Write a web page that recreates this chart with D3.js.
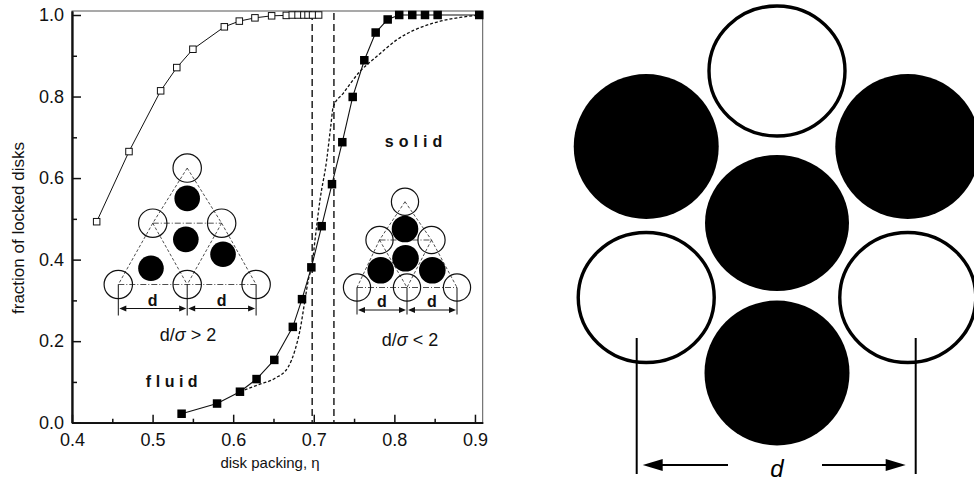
<!DOCTYPE html>
<html>
<head>
<meta charset="utf-8">
<script src="https://cdn.jsdelivr.net/npm/d3@7"></script>
<style>
  html, body { margin: 0; padding: 0; background: #fff; }
  svg { display: block; font-family: "Liberation Sans", Arial, Helvetica, sans-serif; }
</style>
</head>
<body>
<svg id="fig" width="974" height="484"></svg>
<script>
// ---- data: fraction of locked disks vs. disk packing ----
const openEta   = [0.4306, 0.4707, 0.510, 0.530, 0.550, 0.589, 0.6076, 0.627, 0.6477,
                   0.6659, 0.6733, 0.6805, 0.6877, 0.6929, 0.6985, 0.706];
const openFrac  = [0.493, 0.665, 0.814, 0.871, 0.916, 0.971, 0.985, 0.993, 0.998,
                   0.999, 1.0, 1.0, 1.0, 1.0, 1.0, 1.0];

const filledEta  = [0.536, 0.580, 0.6084, 0.629, 0.651, 0.674, 0.6854, 0.697, 0.7098, 0.7226,
                    0.7354, 0.7483, 0.7627, 0.7768, 0.7917, 0.806, 0.8222, 0.838, 0.8537, 0.9053];
const filledFrac = [0.022, 0.047, 0.076, 0.107, 0.154, 0.235, 0.303, 0.381, 0.482, 0.585,
                    0.688, 0.799, 0.889, 0.957, 0.989, 1.0, 1.0, 1.0, 1.0, 1.0];

const curveEta  = [0.6084, 0.631, 0.6519, 0.6684, 0.6767, 0.6829, 0.6891, 0.6932, 0.6982, 0.7015,
                   0.7077, 0.716, 0.721, 0.7242, 0.7366, 0.757, 0.778, 0.803, 0.848, 0.8814, 0.906];
const curveFrac = [0.076, 0.093, 0.109, 0.137, 0.178, 0.227, 0.301, 0.35, 0.391, 0.448,
                   0.546, 0.644, 0.726, 0.775, 0.808, 0.861, 0.898, 0.939, 0.98, 0.994, 1.0];

// coexistence boundaries (vertical dashed lines)
const transitionEta = [0.698, 0.725];

const xMajorTicks = [0.4, 0.5, 0.6, 0.7, 0.8, 0.9];
const xMinorTicks = [0.45, 0.55, 0.65, 0.75, 0.85];
const yMajorTicks = [0.0, 0.2, 0.4, 0.6, 0.8, 1.0];
const yMinorTicks = [0.1, 0.3, 0.5, 0.7, 0.9];

// inset lattices, in units of the lattice spacing d
const insetOpenLoose   = [[0,0],[1,0],[2,0],[0.5,0.89],[1.5,0.89],[1,1.69]];
const insetFilledLoose = [[1.0,1.25],[0.98,0.655],[1.52,0.44],[0.474,0.235]];
const insetOpenDense   = [[0,0],[1,0],[2,0],[0.45,0.95],[1.49,0.95],[0.96,1.716]];
const insetFilledDense = [[0.96,1.17],[0.97,0.585],[0.474,0.345],[1.506,0.345]];

// large schematic: neighbours of a central locked disk (angle in degrees, locked?)
const neighbours = [[90,false],[150,true],[30,true],[210,false],[330,false],[270,true]];

const svg = d3.select("#fig");
const FONT = "'Liberation Sans', Arial, Helvetica, sans-serif";

// ---- scales ----
const x = d3.scaleLinear().domain([0.4, 0.9096]).range([72, 482.7]);
const y = d3.scaleLinear().domain([0, 1.0098]).range([422.7, 11]);

// plot frame (thin top/right edges)
svg.append("rect")
  .attr("x", x(0.4)).attr("y", y(1.0098))
  .attr("width", x(0.9096) - x(0.4)).attr("height", y(0) - y(1.0098))
  .attr("fill", "none").attr("stroke", "#555").attr("stroke-width", 1);

// ---- axes ----
const gx = svg.append("g").attr("transform", `translate(0,${y(0)})`);
gx.call(d3.axisBottom(x).tickValues(xMajorTicks).tickFormat(d3.format(".1f"))
  .tickSizeInner(-8).tickSizeOuter(0).tickPadding(11));
const gxm = svg.append("g").attr("transform", `translate(0,${y(0)})`);
gxm.call(d3.axisBottom(x).tickValues(xMinorTicks).tickFormat("").tickSizeInner(-4).tickSizeOuter(0));

const gy = svg.append("g").attr("transform", `translate(${x(0.4)},0)`);
gy.call(d3.axisLeft(y).tickValues(yMajorTicks).tickFormat(d3.format(".1f"))
  .tickSizeInner(-9).tickSizeOuter(0).tickPadding(8));
const gym = svg.append("g").attr("transform", `translate(${x(0.4)},0)`);
gym.call(d3.axisLeft(y).tickValues(yMinorTicks).tickFormat("").tickSizeInner(-5).tickSizeOuter(0));

[gx, gxm, gy, gym].forEach(g => {
  g.select(".domain").attr("stroke", "#111").attr("stroke-width", 1.8);
  g.selectAll(".tick line").attr("stroke", "#111").attr("stroke-width", 1.5);
  g.selectAll(".tick text").attr("fill", "#111").style("font-size", "18px").style("font-family", FONT);
});

// axis titles
svg.append("text")
  .attr("x", 270).attr("y", 468).attr("text-anchor", "middle")
  .style("font-size", "15px").attr("fill", "#111")
  .text("disk packing, η");
svg.append("text")
  .attr("transform", "translate(24,228) rotate(-90)").attr("text-anchor", "middle")
  .style("font-size", "17px").attr("fill", "#111")
  .text("fraction of locked disks");

// ---- vertical dashed transition lines ----
svg.selectAll("line.trans").data(transitionEta).join("line")
  .attr("class", "trans")
  .attr("x1", d => x(d)).attr("x2", d => x(d))
  .attr("y1", y(1.0098) + 2).attr("y2", y(0))
  .attr("stroke", "#111").attr("stroke-width", 1.4).attr("stroke-dasharray", "7,4");

// ---- series ----
const openPts   = openEta.map((e, i) => [e, openFrac[i]]);
const filledPts = filledEta.map((e, i) => [e, filledFrac[i]]);
const curvePts  = curveEta.map((e, i) => [e, curveFrac[i]]);

const line = d3.line().x(d => x(d[0])).y(d => y(d[1]));

svg.append("path").attr("d", d3.line().x(d => x(d[0])).y(d => y(d[1])).curve(d3.curveMonotoneX)(curvePts))
  .attr("fill", "none").attr("stroke", "#111").attr("stroke-width", 1.3).attr("stroke-dasharray", "3,2");

svg.append("path").attr("d", line(openPts))
  .attr("fill", "none").attr("stroke", "#111").attr("stroke-width", 1);
svg.append("path").attr("d", line(filledPts))
  .attr("fill", "none").attr("stroke", "#111").attr("stroke-width", 1.1);

const so = 6.5;
svg.selectAll("rect.open").data(openPts).join("rect")
  .attr("class", "open")
  .attr("x", d => x(d[0]) - so / 2).attr("y", d => y(d[1]) - so / 2)
  .attr("width", so).attr("height", so)
  .attr("fill", "#fff").attr("stroke", "#111").attr("stroke-width", 1);

const sf = 8.5;
svg.selectAll("rect.filled").data(filledPts).join("rect")
  .attr("class", "filled")
  .attr("x", d => x(d[0]) - sf / 2).attr("y", d => y(d[1]) - sf / 2)
  .attr("width", sf).attr("height", sf)
  .attr("fill", "#000");

// ---- phase labels ----
svg.append("text").attr("x", 174).attr("y", 386.5).attr("text-anchor", "middle")
  .style("font-size", "16px").style("font-weight", "bold").style("letter-spacing", "4.5px")
  .attr("fill", "#111").text("fluid");
svg.append("text").attr("x", 416).attr("y", 147).attr("text-anchor", "middle")
  .style("font-size", "16px").style("font-weight", "bold").style("letter-spacing", "5px")
  .attr("fill", "#111").text("solid");

// ---- lattice insets ----
function drawInset(cfg) {
  const g = svg.append("g");
  const ux = d3.scaleLinear().domain([0, 1]).range([cfg.ox, cfg.ox + cfg.unit]);
  const uy = d3.scaleLinear().domain([0, 1]).range([cfg.oy, cfg.oy - cfg.unit]);
  const o = cfg.open;
  const P = i => [ux(o[i][0]), uy(o[i][1])];

  // triangle construction lines
  const dashed = [[5,3],[3,0],[5,4],[4,2],[3,1],[4,1]];
  dashed.forEach(([a, b]) => {
    g.append("line").attr("x1", P(a)[0]).attr("y1", P(a)[1]).attr("x2", P(b)[0]).attr("y2", P(b)[1])
      .attr("stroke", "#222").attr("stroke-width", 0.8).attr("stroke-dasharray", "3,2");
  });
  [[3,4],[0,2]].forEach(([a, b]) => {
    g.append("line").attr("x1", P(a)[0]).attr("y1", P(a)[1]).attr("x2", P(b)[0]).attr("y2", P(b)[1])
      .attr("stroke", "#222").attr("stroke-width", 0.8).attr("stroke-dasharray", "6,2,1,2");
  });

  g.selectAll("circle.o").data(o).join("circle")
    .attr("cx", d => ux(d[0])).attr("cy", d => uy(d[1])).attr("r", cfg.rOpen)
    .attr("fill", "none").attr("stroke", "#111").attr("stroke-width", 1.2);
  g.selectAll("circle.f").data(cfg.filled).join("circle")
    .attr("cx", d => ux(d[0])).attr("cy", d => uy(d[1])).attr("r", cfg.rFilled)
    .attr("fill", "#000");

  // dimension lines
  [0, 1, 2].forEach(k => {
    g.append("line").attr("x1", ux(k)).attr("x2", ux(k))
      .attr("y1", cfg.oy).attr("y2", cfg.oy + cfg.dimDrop)
      .attr("stroke", "#111").attr("stroke-width", 1);
  });
  const ay = cfg.oy + cfg.dimY;
  [0, 1].forEach(k => {
    const x0 = ux(k) + 1, x1 = ux(k + 1) - 1;
    g.append("line").attr("x1", x0 + 5).attr("x2", x1 - 5).attr("y1", ay).attr("y2", ay)
      .attr("stroke", "#111").attr("stroke-width", 1.2);
    g.append("path").attr("d", `M${x0},${ay} l7,-3 v6 z`).attr("fill", "#111");
    g.append("path").attr("d", `M${x1},${ay} l-7,-3 v6 z`).attr("fill", "#111");
    g.append("text").attr("x", (ux(k) + ux(k + 1)) / 2).attr("y", ay - 3).attr("text-anchor", "middle")
      .style("font-size", "16px").style("font-weight", "bold").attr("fill", "#111").text("d");
  });

  const t = g.append("text").attr("x", cfg.labelX).attr("y", cfg.labelY).attr("text-anchor", "middle")
    .style("font-size", "18px").attr("fill", "#111");
  t.append("tspan").text("d/");
  t.append("tspan").style("font-style", "italic").text("σ");
  t.append("tspan").text(cfg.rel);
}

drawInset({ ox: 118.3, oy: 284.5, unit: 68.9, open: insetOpenLoose, filled: insetFilledLoose,
            rOpen: 14.2, rFilled: 12.8, dimDrop: 31, dimY: 24, labelX: 188, labelY: 341, rel: " > 2" });
drawInset({ ox: 357, oy: 287.5, unit: 50, open: insetOpenDense, filled: insetFilledDense,
            rOpen: 13.6, rFilled: 13.3, dimDrop: 27, dimY: 22.5, labelX: 410, labelY: 346, rel: " < 2" });

// ---- large schematic of a locked disk and its neighbours ----
const sch = svg.append("g");
const cx0 = 777, cy0 = 222, ring = 151;
const nx = a => cx0 + ring * Math.cos(a * Math.PI / 180);
const ny = a => cy0 - ring * Math.sin(a * Math.PI / 180);

sch.append("ellipse").attr("cx", cx0).attr("cy", cy0 + 1).attr("rx", 72).attr("ry", 68).attr("fill", "#000");
neighbours.forEach(([a, locked]) => {
  if (locked) {
    sch.append("circle").attr("cx", nx(a)).attr("cy", ny(a)).attr("r", 72.5).attr("fill", "#000");
  } else {
    sch.append("ellipse").attr("cx", nx(a)).attr("cy", ny(a)).attr("rx", 68).attr("ry", 65)
      .attr("fill", "#fff").attr("stroke", "#000").attr("stroke-width", 3.4);
  }
});

// spacing d between the two lower open disks
const dl = 636.7, dr = 915.7, dy = 465;
[dl, dr].forEach(xx => {
  sch.append("line").attr("x1", xx).attr("x2", xx).attr("y1", 338).attr("y2", 474)
    .attr("stroke", "#000").attr("stroke-width", 2);
});
sch.append("line").attr("x1", 655).attr("x2", 728).attr("y1", dy).attr("y2", dy).attr("stroke", "#000").attr("stroke-width", 2);
sch.append("path").attr("d", `M${dl + 6},${dy} l20,-6 v12 z`).attr("fill", "#000");
sch.append("line").attr("x1", 822).attr("x2", 895).attr("y1", dy).attr("y2", dy).attr("stroke", "#000").attr("stroke-width", 2);
sch.append("path").attr("d", `M${dr - 10},${dy} l-20,-6 v12 z`).attr("fill", "#000");
sch.append("text").attr("x", 777).attr("y", 477).attr("text-anchor", "middle")
  .style("font-size", "24px").style("font-style", "italic").attr("fill", "#000").text("d");
</script>
</body>
</html>
